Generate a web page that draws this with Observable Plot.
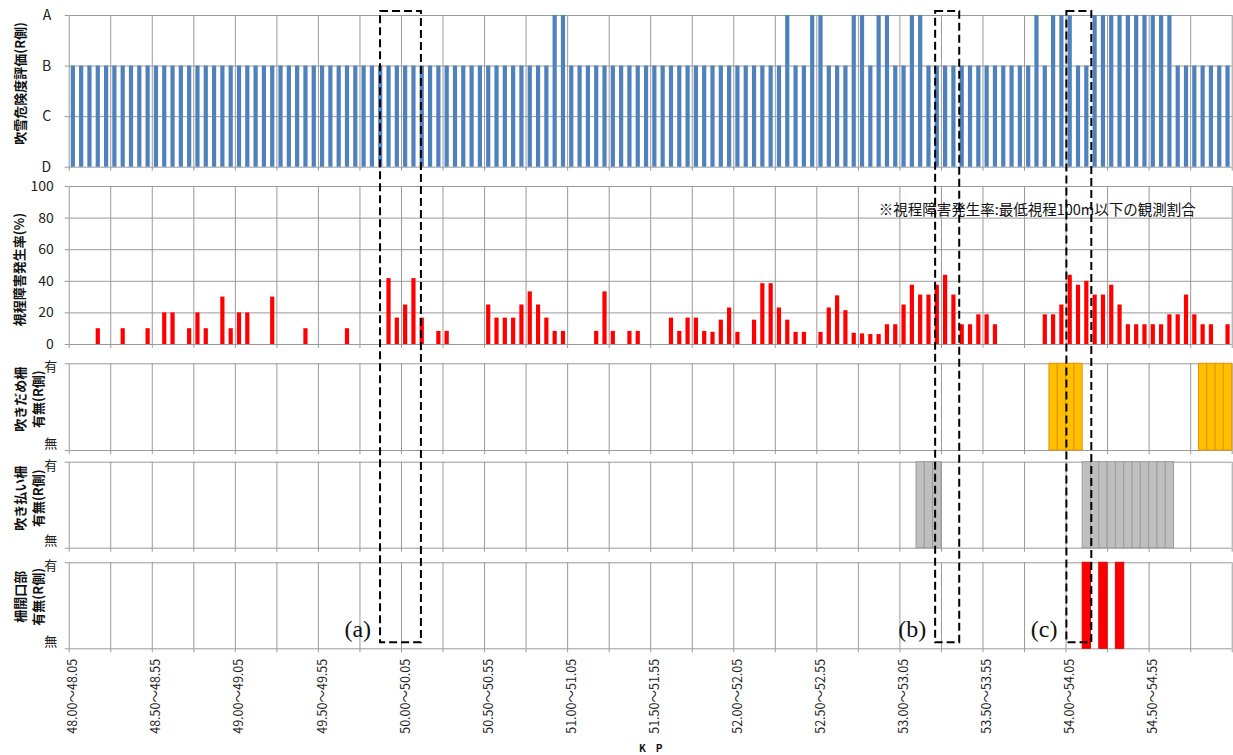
<!DOCTYPE html>
<html>
<head>
<meta charset="utf-8">
<script src="https://cdn.jsdelivr.net/npm/d3@7"></script>
<script src="https://cdn.jsdelivr.net/npm/@observablehq/plot@0.6"></script>
<style>
html, body { margin: 0; padding: 0; background: #fff; }
#chart { position: relative; width: 1233px; height: 755px; overflow: hidden; background: #fff; }
#chart > svg { position: absolute; left: 0; }
</style>
</head>
<body>
<div id="chart"></div>
<script>
// ---------------- categories (50 m sections, KP 48.00 – 55.00) ----------------
const KP_START = 48.00, KP_END = 55.00, SECTION = 0.05;
const sectionStarts = d3.range(140).map(i => +(KP_START + i * SECTION).toFixed(2));
const sectionLabels = sectionStarts.map(s => `${s.toFixed(2)}～${(s + SECTION).toFixed(2)}`);
const labeledSections = sectionStarts.map((s, i) => ({start: s, label: sectionLabels[i]})).filter((d, i) => i % 10 === 0);
const gridKp = d3.range(0, 141, 5).map(i => +(KP_START + i * SECTION).toFixed(2));

// ---------------- tick labels ----------------
const riskLevels = ["D", "C", "B", "A"];
const rateTicks = [0, 20, 40, 60, 80, 100];
const presenceLabels = ["無", "有"];

// ---------------- series ----------------
// 吹雪危険度評価 (R側)
const riskRating = [
  "B","B","B","B","B","B","B","B","B","B",
  "B","B","B","B","B","B","B","B","B","B",
  "B","B","B","B","B","B","B","B","B","B",
  "B","B","B","B","B","B","B","B","B","B",
  "B","B","B","B","B","B","B","B","B","B",
  "B","B","B","B","B","B","B","B","A","A",
  "B","B","B","B","B","B","B","B","B","B",
  "B","B","B","B","B","B","B","B","B","B",
  "B","B","B","B","B","B","A","B","B","A",
  "A","B","B","B","A","A","B","A","A","B",
  "B","A","A","B","B","B","B","B","B","B",
  "B","B","B","B","B","B","A","B","A","A",
  "A","B","B","A","A","A","A","A","A","A",
  "A","A","A","B","B","B","B","B","B","B"
];
// 視程障害発生率 (%)
const visibilityRate = [
  null,null,null,10,null,null,10,null,null,10,
  null,20,20,null,10,20,10,null,30,10,
  20,20,null,null,30,null,null,null,10,null,
  null,null,null,10,null,null,null,null,41.7,16.7,
  25,41.7,16.7,null,8.3,8.3,null,null,null,null,
  25,16.7,16.7,16.7,25,33.3,25,16.7,8.3,8.3,
  null,null,null,8.3,33.3,8.3,null,8.3,8.3,null,
  null,null,16.7,8.3,16.7,16.7,8.3,7.7,15.4,23.1,
  7.7,null,15.4,38.5,38.5,23.1,15.4,7.7,7.7,null,
  7.7,23.1,30.8,21.4,7.1,6.7,6.3,6.3,12.5,12.5,
  25,37.5,31.3,31.3,37.5,43.8,31.3,12.5,12.5,18.8,
  18.8,12.5,null,null,null,null,null,18.8,18.8,25,
  43.8,37.5,40,31.3,31.3,37.5,25,12.5,12.5,12.5,
  12.5,12.5,18.8,18.8,31.3,18.8,12.5,12.5,null,12.5
];
// 吹きだめ柵 有無 (R側)
const snowdriftFence = [
  0,0,0,0,0,0,0,0,0,0, 0,0,0,0,0,0,0,0,0,0, 0,0,0,0,0,0,0,0,0,0,
  0,0,0,0,0,0,0,0,0,0, 0,0,0,0,0,0,0,0,0,0, 0,0,0,0,0,0,0,0,0,0,
  0,0,0,0,0,0,0,0,0,0, 0,0,0,0,0,0,0,0,0,0, 0,0,0,0,0,0,0,0,0,0,
  0,0,0,0,0,0,0,0,0,0, 0,0,0,0,0,0,0,0,0,0,
  0,0,0,0,0,0,0,0,1,1,
  1,1,0,0,0,0,0,0,0,0,
  0,0,0,0,0,0,1,1,1,1
];
// 吹き払い柵 有無 (R側)
const snowblowFence = [
  0,0,0,0,0,0,0,0,0,0, 0,0,0,0,0,0,0,0,0,0, 0,0,0,0,0,0,0,0,0,0,
  0,0,0,0,0,0,0,0,0,0, 0,0,0,0,0,0,0,0,0,0, 0,0,0,0,0,0,0,0,0,0,
  0,0,0,0,0,0,0,0,0,0, 0,0,0,0,0,0,0,0,0,0, 0,0,0,0,0,0,0,0,0,0,
  0,0,0,0,0,0,0,0,0,0,
  0,0,1,1,1,0,0,0,0,0,
  0,0,0,0,0,0,0,0,0,0,
  0,0,1,1,1,1,1,1,1,1,
  1,1,1,0,0,0,0,0,0,0
];
// 柵開口部 有無 (R側)
const fenceOpening = [
  0,0,0,0,0,0,0,0,0,0, 0,0,0,0,0,0,0,0,0,0, 0,0,0,0,0,0,0,0,0,0,
  0,0,0,0,0,0,0,0,0,0, 0,0,0,0,0,0,0,0,0,0, 0,0,0,0,0,0,0,0,0,0,
  0,0,0,0,0,0,0,0,0,0, 0,0,0,0,0,0,0,0,0,0, 0,0,0,0,0,0,0,0,0,0,
  0,0,0,0,0,0,0,0,0,0, 0,0,0,0,0,0,0,0,0,0, 0,0,0,0,0,0,0,0,0,0,
  0,0,1,0,1,0,1,0,0,0,
  0,0,0,0,0,0,0,0,0,0
];

// ---------------- annotations ----------------
const noteText = "※視程障害発生率:最低視程100m以下の観測割合";
const noteAt = {kp: 52.872, rate: 84.8};
const boxLabels = ["(a)", "(b)", "(c)"];
const boxFrom = [49.874, 53.215, 54.005];
const boxTo = [50.120, 53.360, 54.155];
const boxTopRisk = 3.08;       // in units of the risk panel
const boxBottomPresence = 0.07; // in units of the last presence panel

// ---------------- styling / layout ----------------
const W = 1233, ML = 68.7, MR = 1.3;
const GRID = "#9a9a9a";
const FONT = "'Noto Sans CJK JP', 'Noto Sans', sans-serif";
const BAR_INSET = 2.05;

const rows = sectionStarts.map((s, i) => ({
  start: s, end: +(s + SECTION).toFixed(2), label: sectionLabels[i],
  risk: riskLevels.indexOf(riskRating[i]),
  rate: visibilityRate[i],
  drift: snowdriftFence[i], blow: snowblowFence[i], open: fenceOpening[i]
}));

function frameMarks(yDomain, yTicks) {
  return [
    Plot.ruleY(yTicks, {stroke: GRID, strokeWidth: 1}),
    Plot.ruleX(gridKp, {stroke: GRID, strokeWidth: 1}),
    Plot.ruleX(gridKp, {x: d => d, y1: yDomain[0], y2: yDomain[0], insetBottom: -4, stroke: GRID}),
    Plot.ruleY(yTicks, {y: d => d, x1: KP_START, x2: KP_START, insetLeft: -4, stroke: GRID})
  ];
}

function titleMark(text, dx, dy, lh) {
  return Plot.text([text], {
    text: d => d, frameAnchor: "left", textAnchor: "middle", lineAnchor: "middle",
    dx, dy, rotate: -90,
    fontWeight: "bold", fontSize: 13, lineHeight: lh || 1.35, fill: "#111"
  });
}

function makePlot(cfg) {
  return Plot.plot({
    width: W, height: cfg.height,
    marginLeft: ML, marginRight: MR, marginTop: cfg.mt, marginBottom: cfg.mb,
    x: {domain: [KP_START, KP_END], axis: null},
    y: {domain: cfg.yDomain, axis: null},
    style: {background: "transparent", overflow: "visible", fontFamily: FONT, color: "#222"},
    marks: cfg.marks
  });
}

const layout = [
  {top: 0,   height: 176, mt: 15,  mb: 9.3},
  {top: 176, height: 178, mt: 10,  mb: 10},
  {top: 354, height: 102, mt: 9.3, mb: 6},
  {top: 456, height: 100, mt: 5.7, mb: 8.3},
  {top: 556, height: 199, mt: 6.3, mb: 106.7}
];

// Panel 1: 吹雪危険度評価
const p1 = makePlot({...layout[0], yDomain: [0, 3], marks: [
  ...frameMarks([0, 3], [0, 1, 2, 3]),
  Plot.rectY(rows, {x1: "start", x2: "end", y1: 0, y2: "risk", fill: "#4F81BD", insetLeft: BAR_INSET, insetRight: BAR_INSET}),
  Plot.text([0, 1, 2, 3], {x: KP_START, y: d => d, text: d => riskLevels[d], textAnchor: "end", dx: -18, fontSize: 14}),
  titleMark("吹雪危険度評価(R側)", -50, -8)
]});

// Panel 2: 視程障害発生率
const p2 = makePlot({...layout[1], yDomain: [0, 100], marks: [
  ...frameMarks([0, 100], rateTicks),
  Plot.rectY(rows.filter(d => d.rate != null), {x1: "start", x2: "end", y1: 0, y2: "rate", fill: "#FF0000", insetLeft: BAR_INSET, insetRight: BAR_INSET}),
  Plot.text(rateTicks, {x: KP_START, y: d => d, text: d => String(d), textAnchor: "end", dx: -15.5, fontSize: 14}),
  Plot.text([noteText], {x: noteAt.kp, y: noteAt.rate, text: d => d, textAnchor: "start", fontSize: 14.5, fill: "#111"}),
  titleMark("視程障害発生率(%)", -50.5, 4)
]});

function presencePanel(cfg, key, fill, stroke, title, tdy) {
  return makePlot({...cfg, yDomain: [0, 1], marks: [
    ...frameMarks([0, 1], [0, 1]),
    Plot.rectY(rows.filter(d => d[key] === 1), {x1: "start", x2: "end", y1: 0, y2: 1, fill, stroke, strokeWidth: 1}),
    Plot.text([1], {x: KP_START, y: 1, text: d => presenceLabels[d], textAnchor: "end", dx: -12, dy: 3.5, fontSize: 13}),
    Plot.text([0], {x: KP_START, y: 0, text: d => presenceLabels[d], textAnchor: "end", dx: -12, dy: -7, fontSize: 13}),
    titleMark(title, -41, tdy, 1.35),
    ...(cfg.extra || [])
  ]});
}

const p3 = presencePanel(layout[2], "drift", "#FFC000", "#E8900A", "吹きだめ柵\n有無(R側)", -8);
const p4 = presencePanel(layout[3], "blow", "#BFBFBF", "#9C9C9C", "吹き払い柵\n有無(R側)", -7);
const p5 = presencePanel({...layout[4], extra: [
  Plot.text(labeledSections, {x: d => d.start + SECTION / 2, y: 0, text: "label", rotate: -90, textAnchor: "end", lineAnchor: "middle", dy: 10, fontSize: 12.5, fill: "#222"}),
  Plot.text(["K　P"], {text: d => d, frameAnchor: "bottom", textAnchor: "middle", lineAnchor: "middle", dy: 99.5, fontSize: 10, fontWeight: "bold", fill: "#111"})
]}, "open", "#FF0000", "#E00000", "柵開口部\n有無(R側)", -9);

const plots = [p1, p2, p3, p4, p5];
const chart = document.getElementById("chart");
plots.forEach((p, i) => {
  p.style.position = "absolute";
  p.style.left = "0px";
  p.style.top = layout[i].top + "px";
  chart.appendChild(p);
});

// ---------------- dashed annotation boxes (overlay) ----------------
const xs = p1.scale("x");
const yTop = layout[0].top + p1.scale("y").apply(boxTopRisk);
const yBottom = layout[4].top + p5.scale("y").apply(boxBottomPresence);
const overlay = d3.create("svg")
  .attr("width", W).attr("height", 755)
  .style("position", "absolute").style("left", "0px").style("top", "0px")
  .style("pointer-events", "none");
boxLabels.forEach((label, i) => {
  const x1 = xs.apply(boxFrom[i]), x2 = xs.apply(boxTo[i]);
  overlay.append("rect")
    .attr("x", x1).attr("y", yTop).attr("width", x2 - x1).attr("height", yBottom - yTop)
    .attr("fill", "none").attr("stroke", "#000").attr("stroke-width", 2)
    .attr("stroke-dasharray", "8 4");
  overlay.append("text")
    .attr("x", x1 - 9).attr("y", yBottom - 5)
    .attr("text-anchor", "end")
    .attr("font-family", "'Liberation Serif', 'DejaVu Serif', serif")
    .attr("font-size", 24)
    .attr("fill", "#111")
    .text(label);
});
chart.appendChild(overlay.node());
</script>
</body>
</html>
